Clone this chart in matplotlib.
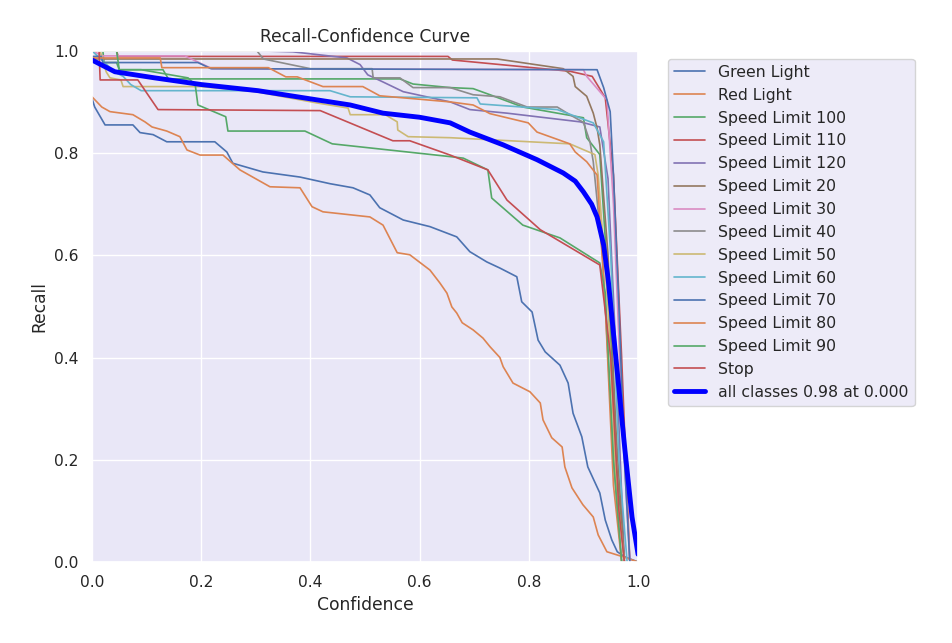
import matplotlib
matplotlib.use("Agg")
import matplotlib.pyplot as plt
import seaborn as sns
import numpy as np

sns.set_theme(style="darkgrid")
plt.rcParams['font.family'] = ['DejaVu Sans']
plt.rcParams['axes.facecolor'] = '#E9E7F7'

names = ["Green Light", "Red Light", "Speed Limit 100", "Speed Limit 110", "Speed Limit 120",
         "Speed Limit 20", "Speed Limit 30", "Speed Limit 40", "Speed Limit 50", "Speed Limit 60",
         "Speed Limit 70", "Speed Limit 80", "Speed Limit 90", "Stop"]

green_light_x = [0, 0.005, 0.024, 0.075, 0.088, 0.112, 0.137, 0.225, 0.247, 0.258, 0.313, 0.381, 0.436, 0.478,
                 0.509, 0.527, 0.57, 0.619, 0.668, 0.692, 0.723, 0.747, 0.778, 0.787, 0.806, 0.817, 0.83, 0.857,
                 0.872, 0.881, 0.897, 0.908, 0.93, 0.94, 0.952, 0.962, 0.976, 1.0]
green_light_y = [0.907, 0.89, 0.855, 0.855, 0.84, 0.836, 0.822, 0.822, 0.802, 0.78, 0.763, 0.753, 0.74, 0.732,
                 0.718, 0.693, 0.669, 0.656, 0.636, 0.607, 0.587, 0.575, 0.558, 0.509, 0.489, 0.434, 0.411, 0.385,
                 0.35, 0.291, 0.245, 0.186, 0.135, 0.082, 0.043, 0.02, 0.01, 0.0]

red_light_x = [0, 0.018, 0.033, 0.075, 0.097, 0.11, 0.137, 0.161, 0.174, 0.198, 0.24, 0.271, 0.326, 0.381, 0.403,
               0.423, 0.509, 0.533, 0.559, 0.582, 0.619, 0.637, 0.65, 0.659, 0.668, 0.678, 0.698, 0.716, 0.729,
               0.747, 0.753, 0.771, 0.802, 0.821, 0.826, 0.842, 0.861, 0.866, 0.879, 0.899, 0.918, 0.927, 0.943,
               0.973, 1.0]
red_light_y = [0.91, 0.89, 0.881, 0.875, 0.861, 0.851, 0.843, 0.832, 0.806, 0.796, 0.796, 0.767, 0.734, 0.732,
               0.695, 0.685, 0.675, 0.659, 0.605, 0.601, 0.571, 0.546, 0.526, 0.499, 0.487, 0.468, 0.454, 0.438,
               0.421, 0.4, 0.382, 0.35, 0.333, 0.311, 0.278, 0.243, 0.225, 0.186, 0.145, 0.112, 0.088, 0.053,
               0.02, 0.01, 0.0]

sl100_x = [0, 0.02, 0.022, 0.045, 0.05, 0.13, 0.14, 0.564, 0.588, 0.656, 0.698, 0.729, 0.789, 0.9, 0.906, 0.93,
           0.945, 0.96, 0.975]
sl100_y = [1.0, 1.0, 0.977, 0.977, 0.963, 0.963, 0.945, 0.945, 0.935, 0.928, 0.926, 0.914, 0.89, 0.869, 0.83,
           0.797, 0.55, 0.2, 0.0]

sl110_x = [0, 0.045, 0.048, 0.652, 0.66, 0.875, 0.916, 0.94, 0.955, 0.97, 0.985]
sl110_y = [1.0, 1.0, 0.989, 0.989, 0.982, 0.96, 0.95, 0.908, 0.757, 0.4, 0.0]

sl120_x = [0, 0.3, 0.368, 0.467, 0.491, 0.505, 0.533, 0.57, 0.656, 0.692, 0.76, 0.894, 0.93, 0.945, 0.96, 0.975]
sl120_y = [1.0, 1.0, 0.998, 0.986, 0.973, 0.953, 0.939, 0.92, 0.9, 0.885, 0.878, 0.861, 0.851, 0.75, 0.4, 0.0]

sl20_x = [0, 0.742, 0.863, 0.881, 0.885, 0.906, 0.918, 0.925, 0.93, 0.945, 0.96, 0.975]
sl20_y = [0.984, 0.984, 0.965, 0.95, 0.93, 0.911, 0.878, 0.849, 0.816, 0.6, 0.25, 0.0]

sl30_x = [0, 0.02, 0.17, 0.22, 0.9, 0.906, 0.943, 0.955, 0.97, 0.985]
sl30_y = [1.0, 0.99, 0.99, 0.965, 0.963, 0.95, 0.904, 0.7, 0.3, 0.0]

sl40_x = [0, 0.302, 0.314, 0.4, 0.513, 0.515, 0.564, 0.588, 0.656, 0.698, 0.747, 0.797, 0.852, 0.875, 0.9,
          0.912, 0.918, 0.935, 0.955, 0.97]
sl40_y = [1.0, 1.0, 0.984, 0.965, 0.965, 0.947, 0.947, 0.928, 0.928, 0.914, 0.91, 0.89, 0.89, 0.875, 0.86,
          0.822, 0.783, 0.6, 0.2, 0.0]

sl50_x = [0, 0.015, 0.02, 0.026, 0.033, 0.053, 0.057, 0.2, 0.3, 0.412, 0.469, 0.473, 0.537, 0.559, 0.56, 0.579,
          0.656, 0.875, 0.921, 0.927, 0.945, 0.96, 0.975]
sl50_y = [1.0, 1.0, 0.98, 0.959, 0.947, 0.943, 0.93, 0.93, 0.92, 0.898, 0.888, 0.875, 0.875, 0.861, 0.845, 0.832,
          0.83, 0.818, 0.797, 0.757, 0.5, 0.15, 0.0]

sl60_x = [0, 0.03, 0.044, 0.057, 0.071, 0.09, 0.436, 0.473, 0.705, 0.711, 0.852, 0.918, 0.937, 0.95, 0.965, 0.98]
sl60_y = [1.0, 0.97, 0.957, 0.95, 0.934, 0.922, 0.922, 0.91, 0.908, 0.896, 0.885, 0.859, 0.822, 0.6, 0.2, 0.0]

sl70_x = [0, 0.017, 0.02, 0.194, 0.218, 0.925, 0.937, 0.949, 0.955, 0.965, 0.975, 0.985]
sl70_y = [0.989, 0.989, 0.977, 0.977, 0.965, 0.963, 0.928, 0.881, 0.757, 0.5, 0.2, 0.0]

sl80_x = [0, 0.125, 0.128, 0.323, 0.355, 0.376, 0.423, 0.496, 0.527, 0.656, 0.698, 0.729, 0.799, 0.815, 0.875,
          0.885, 0.906, 0.925, 0.94, 0.955, 0.97]
sl80_y = [0.986, 0.986, 0.967, 0.967, 0.949, 0.949, 0.93, 0.93, 0.912, 0.9, 0.894, 0.877, 0.859, 0.841, 0.818,
          0.802, 0.783, 0.757, 0.5, 0.15, 0.0]

sl90_x = [0, 0.045, 0.05, 0.09, 0.176, 0.189, 0.194, 0.245, 0.249, 0.39, 0.44, 0.656, 0.68, 0.725, 0.732, 0.789,
          0.857, 0.93, 0.94, 0.955, 0.97]
sl90_y = [1.0, 1.0, 0.963, 0.963, 0.947, 0.934, 0.894, 0.871, 0.843, 0.843, 0.818, 0.793, 0.79, 0.767, 0.712,
          0.659, 0.634, 0.585, 0.526, 0.2, 0.0]

stop_x = [0, 0.013, 0.015, 0.084, 0.121, 0.418, 0.551, 0.582, 0.656, 0.725, 0.76, 0.821, 0.93, 0.95, 0.965, 0.975]
stop_y = [1.0, 1.0, 0.943, 0.943, 0.885, 0.883, 0.824, 0.824, 0.796, 0.767, 0.708, 0.65, 0.581, 0.4, 0.1, 0.0]

all_x = [0, 0.042, 0.115, 0.2, 0.304, 0.412, 0.473, 0.533, 0.6, 0.656, 0.692, 0.753, 0.815, 0.863, 0.885, 0.9,
         0.915, 0.925, 0.937, 0.945, 0.958, 0.976, 0.989, 1.0]
all_y = [0.982, 0.959, 0.947, 0.934, 0.922, 0.904, 0.894, 0.878, 0.87, 0.859, 0.841, 0.816, 0.787, 0.761, 0.745,
         0.724, 0.7, 0.675, 0.62, 0.556, 0.415, 0.219, 0.088, 0.015]

series = [(green_light_x, green_light_y), (red_light_x, red_light_y), (sl100_x, sl100_y), (sl110_x, sl110_y),
          (sl120_x, sl120_y), (sl20_x, sl20_y), (sl30_x, sl30_y), (sl40_x, sl40_y), (sl50_x, sl50_y),
          (sl60_x, sl60_y), (sl70_x, sl70_y), (sl80_x, sl80_y), (sl90_x, sl90_y), (stop_x, stop_y)]

fig = plt.figure(figsize=(9.53, 6.43), dpi=100)
ax = fig.add_axes([0.0965, 0.126, 0.573, 0.795])
for name, (xs, ys) in zip(names, series):
    ax.plot(xs, ys, linewidth=1.2, label=name)
ax.plot(all_x, all_y, linewidth=3.5, color="blue", label="all classes 0.98 at 0.000")

ax.set_xlim(0, 1)
ax.set_ylim(0, 1)
ax.set_xlabel("Confidence", fontsize=12.3)
ax.set_ylabel("Recall", fontsize=12.3)
ax.set_title("Recall-Confidence Curve", fontsize=12.3)
ax.tick_params(labelsize=11.2)
ax.legend(bbox_to_anchor=(1.04, 1), loc="upper left", fontsize=11.3, labelspacing=0.5)

fig.savefig("out.png", dpi=100)
